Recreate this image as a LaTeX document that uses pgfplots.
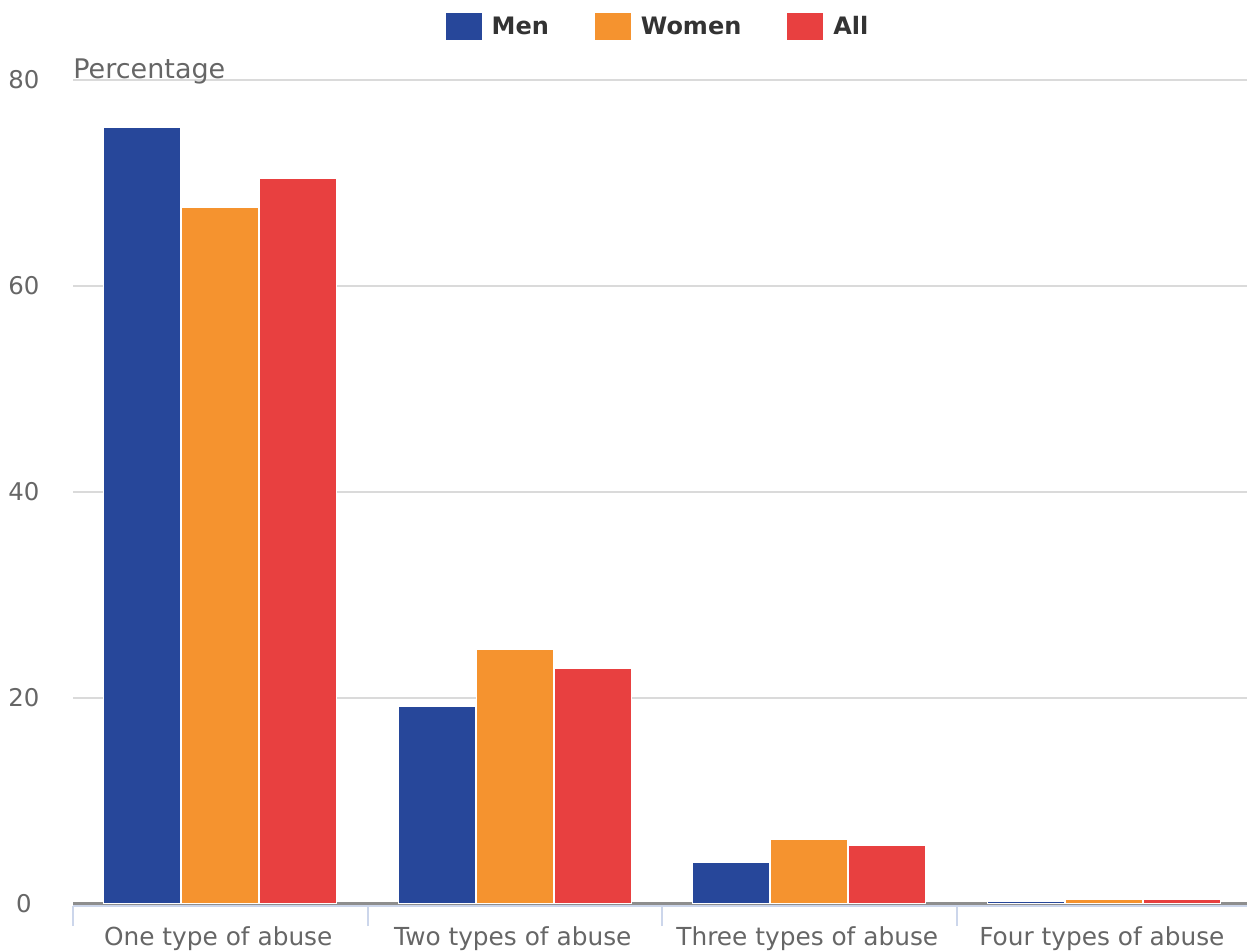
\documentclass[border=0pt]{standalone}
\usepackage{pgfplots}
\pgfplotsset{compat=1.18}
\usepackage{fontspec}
\setmainfont{DejaVu Sans}

\definecolor{men}{HTML}{27479A}
\definecolor{women}{HTML}{F5932F}
\definecolor{allc}{HTML}{E84040}
\definecolor{gridc}{HTML}{DADADA}
\definecolor{axisc}{HTML}{CCD6EB}
\definecolor{labelc}{HTML}{666666}
\definecolor{zeroc}{HTML}{8E8E8E}
\definecolor{legtext}{HTML}{333333}

% Share of respondents by number of abuse types (0..3 = one..four types)
\pgfplotstableread{
x  men   women  all
0  75.4  67.6   70.4
1  19.1  24.7   22.8
2  4.0   6.2    5.6
3  0.2   0.4    0.4
}\abusedata

\begin{document}
\begin{tikzpicture}
\begin{axis}[
  name=ax,
  scale only axis,
  width=587pt, height=413pt,
  xmin=-0.5, xmax=3.486,
  ymin=-0.25, ymax=80,
  clip mode=individual,
  ybar=0.5pt,
  bar width=38.5pt,
  axis line style={draw=none},
  tick pos=left,
  tick align=outside,
  /pgf/number format/assume math mode=true,
  ytick={20,40,60,80},
  extra y ticks={0},
  extra y tick style={ymajorgrids=true, major grid style={draw=zeroc, line width=1.3pt}},
  ymajorgrids=true,
  major grid style={draw=gridc, line width=1pt},
  y tick style={draw=none},
  xtick={0,1,2,3},
  xticklabels={One type of abuse, Two types of abuse, Three types of abuse, Four types of abuse},
  major tick length=0pt,
  minor xtick={-0.5,0.5,1.5,2.5},
  minor tick length=10pt,
  minor x tick style={draw=axisc, line width=1pt},
  xticklabel style={font=\fontsize{12.4}{15}\selectfont, text=labelc, yshift=-7pt, xshift=-1pt},
  yticklabel style={font=\fontsize{12.2}{14}\selectfont, text=labelc, anchor=center, xshift=-24.5pt},
  legend columns=3,
  legend style={draw=none, fill=none, at={(0.5,1)}, anchor=center,
    yshift=26.5pt, xshift=-0.5pt, inner sep=0pt,
    font=\bfseries\fontsize{12}{14}\selectfont, text=legtext,
    /tikz/every odd column/.append style={column sep=3pt},
    /tikz/every even column/.append style={column sep=21pt}},
  legend image code/.code={\fill[#1, draw=none] (0pt,-6.75pt) rectangle (18pt,6.75pt);},
  every axis plot/.append style={draw=white, line width=0.5pt},
]
\addplot[fill=men]   table[x=x, y=men]   {\abusedata};
\addplot[fill=women] table[x=x, y=women] {\abusedata};
\addplot[fill=allc]  table[x=x, y=all]   {\abusedata};
\legend{Men, Women, All}

% x axis line
\draw[axisc, line width=1pt] (rel axis cs:0,0) -- (rel axis cs:1,0);
% axis title
\node[anchor=base west, inner sep=0pt, text=labelc, font=\fontsize{13.5}{15}\selectfont, yshift=0.5pt]
  at (rel axis cs:0,1) {Percentage};
\end{axis}
\pgfresetboundingbox
\path ([shift={(-36.5pt,-22.5pt)}]ax.south west) rectangle ([shift={(0pt,40pt)}]ax.north east);
\end{tikzpicture}
\end{document}
